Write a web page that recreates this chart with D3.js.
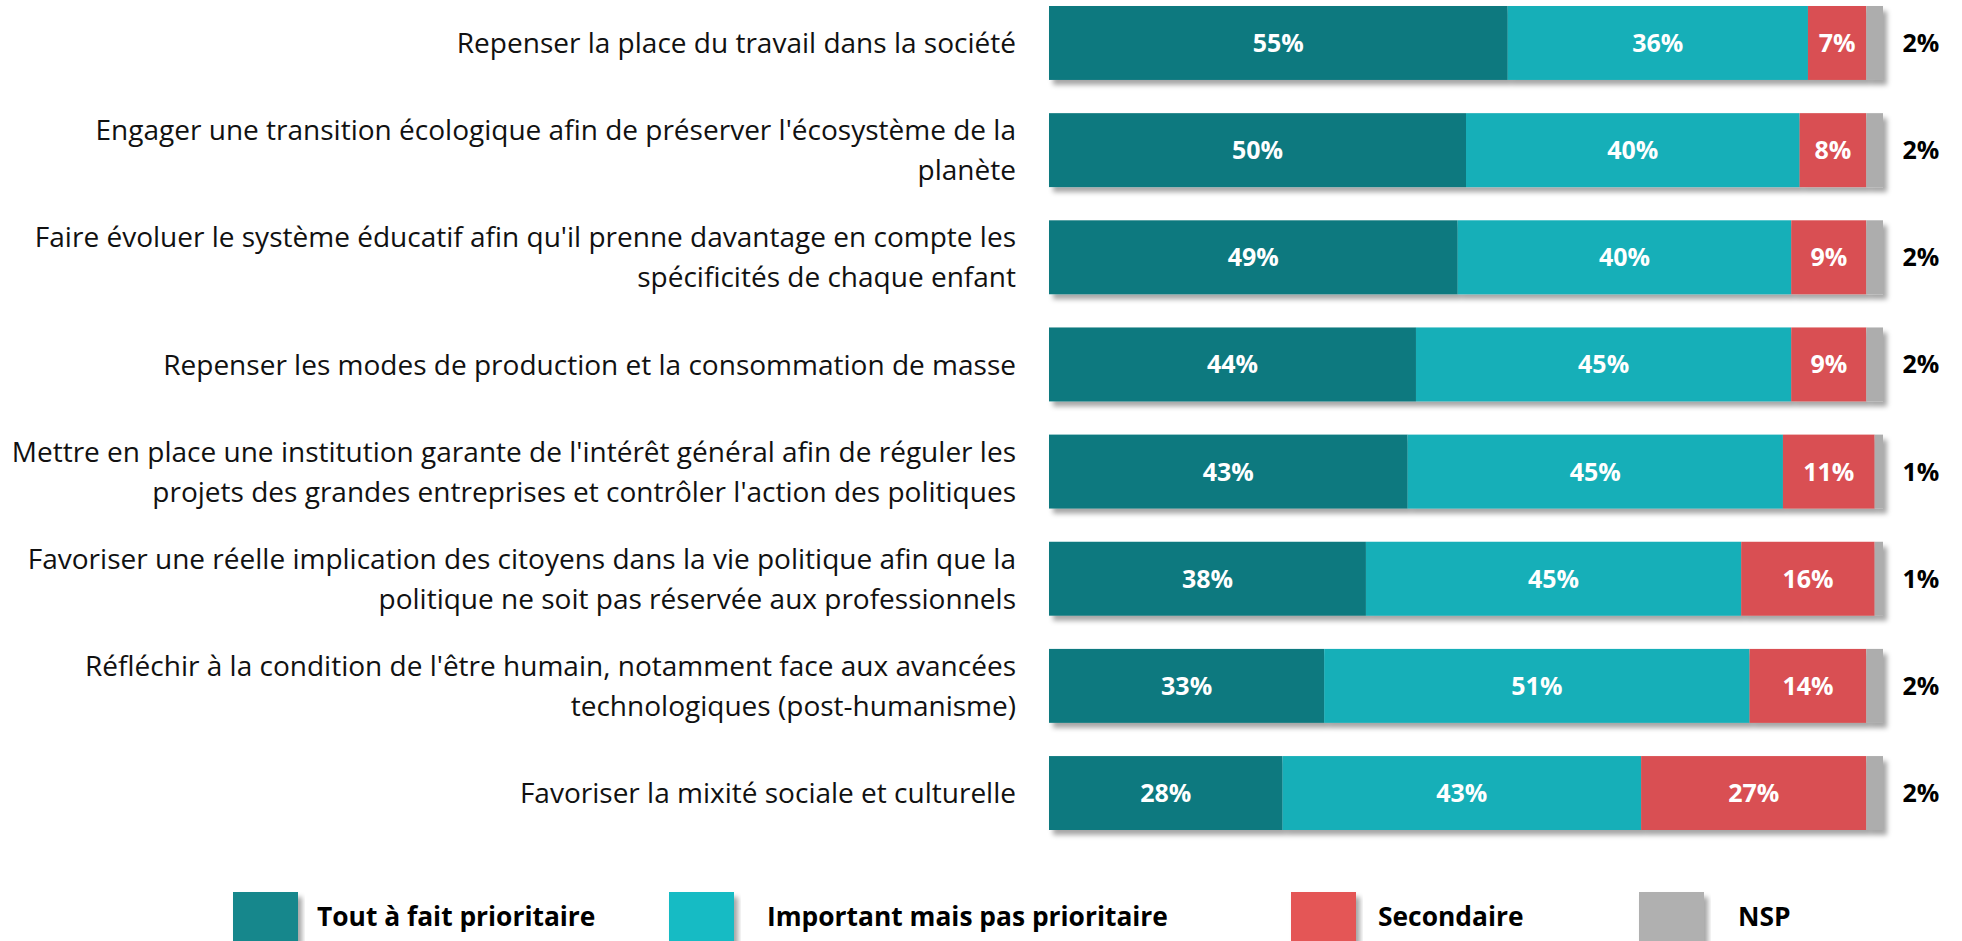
<!DOCTYPE html>
<html>
<head>
<meta charset="utf-8">
<script src="https://cdn.jsdelivr.net/npm/d3@7/dist/d3.min.js"></script>
<style>
  body { margin: 0; background: #fff; }
  svg { display: block; }
</style>
</head>
<body>
<div id="container"></div>
<script>
let w = 1962;
let h = 941;

// data
let categories = [
  ["Repenser la place du travail dans la société"],
  ["Engager une transition écologique afin de préserver l'écosystème de la", "planète"],
  ["Faire évoluer le système éducatif afin qu'il prenne davantage en compte les", "spécificités de chaque enfant"],
  ["Repenser les modes de production et la consommation de masse"],
  ["Mettre en place une institution garante de l'intérêt général afin de réguler les", "projets des grandes entreprises et contrôler l'action des politiques"],
  ["Favoriser une réelle implication des citoyens dans la vie politique afin que la", "politique ne soit pas réservée aux professionnels"],
  ["Réfléchir à la condition de l'être humain, notamment face aux avancées", "technologiques (post-humanisme)"],
  ["Favoriser la mixité sociale et culturelle"]
];
let seriesNames = ["Tout à fait prioritaire", "Important mais pas prioritaire", "Secondaire", "NSP"];
let toutAFait = [55, 50, 49, 44, 43, 38, 33, 28];
let important = [36, 40, 40, 45, 45, 45, 51, 43];
let secondaire = [7, 8, 9, 9, 11, 16, 14, 27];
let nsp = [2, 2, 2, 2, 1, 1, 2, 2];

let barColors = ["#0f797f", "#14afb8", "#d94f52", "#adadad"];
let legendColors = ["#16878c", "#18bbc4", "#e45757", "#b0b0b0"];

let font = "'Open Sans', 'Noto Sans', sans-serif";

let rows = categories.map(function(c, i){
  return { id: i, lines: c, s0: toutAFait[i], s1: important[i], s2: secondaire[i], s3: nsp[i] };
});
let keys = ["s0", "s1", "s2", "s3"];

let viz = d3.select("#container")
  .append("svg")
    .attr("width", w)
    .attr("height", h)
;

let defs = viz.append("defs");
let shadow = defs.append("filter")
    .attr("id", "shadow")
    .attr("x", "-5%").attr("y", "-20%")
    .attr("width", "115%").attr("height", "150%");
shadow.append("feDropShadow")
    .attr("dx", 4).attr("dy", 5)
    .attr("stdDeviation", 2.5)
    .attr("flood-color", "#000")
    .attr("flood-opacity", 0.35);

let xScale = d3.scaleLinear().domain([0, 100]).range([1049, 1883]);
let yScale = d3.scaleBand().domain(rows.map(d => d.id)).range([6, 830]).paddingInner(0.31);
let bw = yScale.bandwidth();

// fit label font size to the reference width of the longest line
let probe = viz.append("text").style("font-family", font).style("font-size", "100px")
  .text(categories[4][0]);
let labelSize = 100 * 1005 / probe.node().getComputedTextLength();
probe.style("font-weight", "bold").style("font-size", "100px").text(seriesNames[1]);
let legendSize = 100 * 401 / probe.node().getComputedTextLength();
probe.remove();

let stacked = d3.stack().keys(keys)(rows);

let rowGroups = viz.selectAll(".rowgroup").data(rows).enter()
  .append("g")
    .attr("class", "rowgroup")
    .attr("filter", "url(#shadow)")
;

stacked.forEach(function(layer, k){
  viz.selectAll(".rowgroup").each(function(d, i){
    let seg = layer[i];
    d3.select(this).append("rect")
      .attr("x", xScale(seg[0]))
      .attr("y", yScale(d.id))
      .attr("width", xScale(seg[1]) - xScale(seg[0]))
      .attr("height", bw)
      .attr("fill", barColors[k]);
  });
});

// value labels inside bars
let labelsG = viz.append("g").attr("class", "values");
stacked.forEach(function(layer, k){
  if (k == 3) return;
  labelsG.selectAll(".v" + k).data(layer).enter()
    .append("text")
      .attr("class", "v" + k)
      .attr("x", d => (xScale(d[0]) + xScale(d[1])) / 2)
      .attr("y", (d, i) => yScale(rows[i].id) + bw / 2)
      .attr("dy", "0.36em")
      .attr("text-anchor", "middle")
      .attr("fill", "white")
      .style("font-family", font)
      .style("font-weight", "bold")
      .style("font-size", "25px")
      .text(d => (d[1] - d[0]) + "%");
});

// NSP values outside
labelsG.selectAll(".nsp").data(rows).enter()
  .append("text")
    .attr("class", "nsp")
    .attr("x", xScale(100) + 38)
    .attr("y", d => yScale(d.id) + bw / 2)
    .attr("dy", "0.36em")
    .attr("text-anchor", "middle")
    .attr("fill", "black")
    .style("font-family", font)
    .style("font-weight", "bold")
    .style("font-size", "25px")
    .text(d => d.s3 + "%");

// category labels
let catG = viz.append("g").attr("class", "categories");
rows.forEach(function(d){
  let cy = yScale(d.id) + bw / 2;
  let n = d.lines.length;
  d.lines.forEach(function(line, j){
    catG.append("text")
      .attr("x", 1016)
      .attr("y", cy + (j - (n - 1) / 2) * 40)
      .attr("dy", "0.36em")
      .attr("text-anchor", "end")
      .attr("fill", "#111")
      .style("font-family", font)
      .style("font-size", labelSize + "px")
      .text(line);
  });
});

// legend
let legendX = [233, 669, 1291, 1639];
let legendTextX = [317, 767, 1378, 1738];
let legend = viz.append("g").attr("class", "legend");
seriesNames.forEach(function(name, k){
  legend.append("rect")
    .attr("x", legendX[k])
    .attr("y", 892)
    .attr("width", 65)
    .attr("height", 60)
    .attr("fill", legendColors[k])
    .attr("filter", "url(#shadow)");
  legend.append("text")
    .attr("x", legendTextX[k])
    .attr("y", 917)
    .attr("dy", "0.36em")
    .attr("fill", "black")
    .style("font-family", font)
    .style("font-weight", "bold")
    .style("font-size", legendSize + "px")
    .text(name);
});
</script>
</body>
</html>
